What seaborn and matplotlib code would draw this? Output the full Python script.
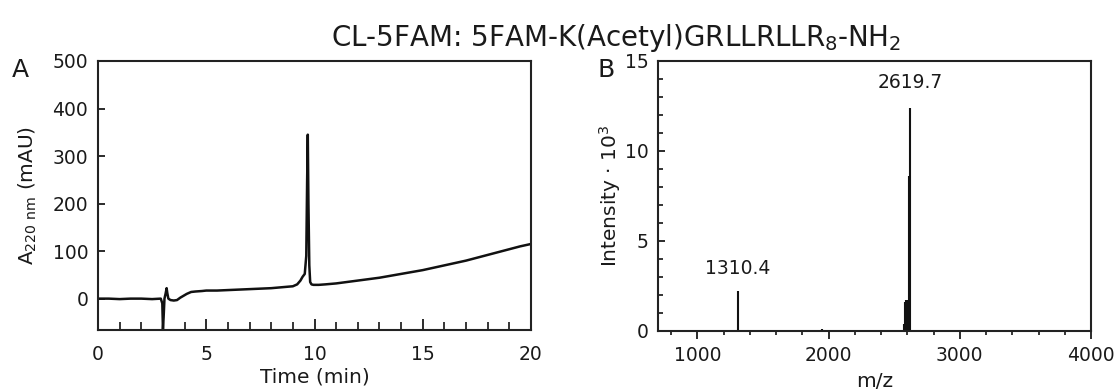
import numpy as np
import pandas as pd
import matplotlib
matplotlib.use("Agg")
import matplotlib.pyplot as plt
import seaborn as sns
from matplotlib.ticker import MultipleLocator

# ---- Data: HPLC chromatogram (panel A) ----
time_min = [0.0, 0.5, 1.0, 1.5, 2.0, 2.5, 2.9, 2.97, 3.0, 3.03, 3.07, 3.12, 3.17, 3.2, 3.25,
            3.35, 3.5, 3.65, 3.8, 3.95, 4.1, 4.3, 4.5, 4.8, 5.0, 5.5, 6.0, 6.5, 7.0, 7.5,
            8.0, 8.5, 9.0, 9.2, 9.35, 9.45, 9.55, 9.62, 9.66, 9.69, 9.72, 9.76, 9.8, 9.86,
            9.95, 10.2, 10.5, 11.0, 11.5, 12.0, 12.5, 13.0, 13.5, 14.0, 14.5, 15.0, 15.5,
            16.0, 16.5, 17.0, 17.5, 18.0, 18.5, 19.0, 19.5, 20.0]
absorb_mau = [0, 0, -1, 0, 0, -1, 0, -10, -64, -40, 0, 10, 22, 12, 0,
              -3, -4, -3, 2, 6, 10, 14, 15, 16, 17, 17, 18, 19, 20, 21,
              22, 24, 26, 30, 38, 46, 52, 90, 250, 345, 200, 70, 35, 30,
              29, 29, 30, 32, 35, 38, 41, 44, 48, 52, 56, 60, 65,
              70, 75, 80, 86, 92, 98, 104, 110, 115]

# ---- Data: mass spectrum (panel B) ----
mz = [1310.4, 1950.0, 2575.0, 2585.0, 2592.0, 2598.0, 2603.0, 2610.0, 2619.7, 2640.0]
intensity_k = [2.2, 0.1, 0.4, 1.6, 1.7, 1.7, 1.7, 8.6, 12.4, 0.05]
peak_labels = ["1310.4", "2619.7"]
peak_label_x = [1310.4, 2619.7]
peak_label_y = [3.5, 13.8]

title = "CL-5FAM: 5FAM-K(Acetyl)GRLLRLLR$_8$-NH$_2$"

sns.set_theme(style="ticks")
plt.rcParams['font.family'] = ['DejaVu Sans']
plt.rcParams['mathtext.fontset'] = 'dejavusans'

fig = plt.figure(figsize=(11.2, 3.92), dpi=100)
axA = fig.add_axes([98/1120, 1-330/392, (531-98)/1120, (330-61)/392])
axB = fig.add_axes([658/1120, 1-331/392, (1091-658)/1120, (331-61)/392])

text_color = "#1a1a1a"
fs_tick = 13.5
fs_lab = 14.5

dfA = pd.DataFrame({"t": time_min, "a": absorb_mau})
sns.lineplot(data=dfA, x="t", y="a", ax=axA, color="#111111", linewidth=1.8)
axA.set_xlim(0, 20)
axA.set_ylim(-66, 500)
axA.xaxis.set_major_locator(MultipleLocator(5))
axA.xaxis.set_minor_locator(MultipleLocator(1))
axA.yaxis.set_major_locator(MultipleLocator(100))
axA.tick_params(axis="x", which="major", direction="in", length=8, width=1.3, labelsize=fs_tick, pad=11, colors=text_color)
axA.tick_params(axis="x", which="minor", direction="in", length=5.5, width=1.3)
axA.tick_params(axis="y", which="major", direction="in", length=5, width=1.3, labelsize=fs_tick, pad=7, colors=text_color)
axA.set_xlabel("Time (min)", fontsize=fs_lab, labelpad=2, color=text_color)
axA.set_ylabel("A$_{220\\ \\mathrm{nm}}$ (mAU)", fontsize=fs_lab, labelpad=10, color=text_color)

axB.vlines(mz, 0, intensity_k, color="#111111", linewidth=1.5)
axB.set_xlim(700, 4000)
axB.set_ylim(0, 15)
axB.xaxis.set_major_locator(MultipleLocator(1000))
axB.xaxis.set_minor_locator(MultipleLocator(200))
axB.yaxis.set_major_locator(MultipleLocator(5))
axB.yaxis.set_minor_locator(MultipleLocator(1))
axB.tick_params(axis="x", which="major", direction="out", length=6, width=1.3, labelsize=fs_tick, pad=5, colors=text_color)
axB.tick_params(axis="x", which="minor", direction="out", length=3, width=1.3)
axB.tick_params(axis="y", which="major", direction="in", length=5, width=1.3, labelsize=fs_tick, pad=7, colors=text_color)
axB.tick_params(axis="y", which="minor", direction="in", length=3.5, width=1.3)
axB.set_xlabel("m/z", fontsize=fs_lab, labelpad=5, color=text_color)
axB.set_ylabel("Intensity \u00b7 10$^3$", fontsize=fs_lab, labelpad=1, color=text_color)
for lab, x, y in zip(peak_labels, peak_label_x, peak_label_y):
    axB.text(x, y, lab, ha="center", va="center", fontsize=fs_tick, color=text_color)

for ax in (axA, axB):
    for s in ax.spines.values():
        s.set_visible(True)
        s.set_linewidth(1.5)
        s.set_color("#222222")

fig.text(616/1120, 1-38/392, title, ha="center", va="center", fontsize=20, color=text_color)
fig.text(20/1120, 1-70/392, "A", ha="center", va="center", fontsize=18, color=text_color)
fig.text(606/1120, 1-70/392, "B", ha="center", va="center", fontsize=18, color=text_color)

fig.savefig("out.png", dpi=100)
